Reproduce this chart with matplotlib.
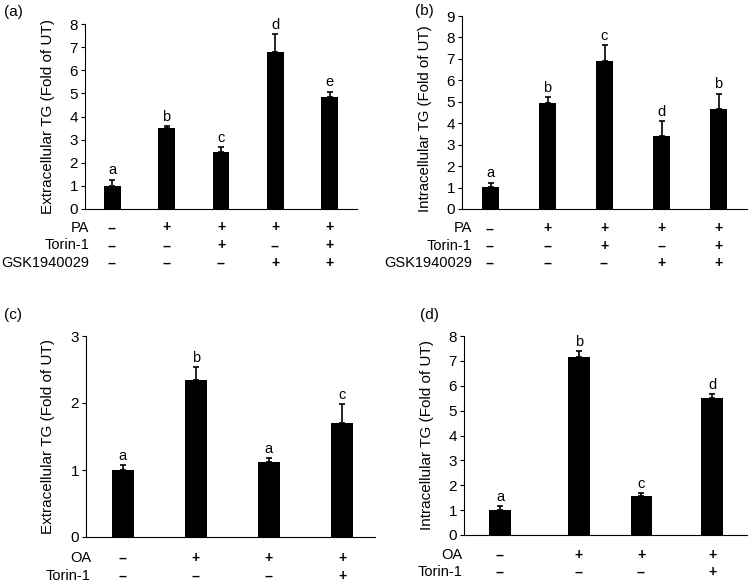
import matplotlib.pyplot as plt

plt.rcParams['font.family'] = ['Liberation Sans', 'DejaVu Sans']

# Panel (a) - extracellular TG, PA / Torin-1 / GSK1940029
a_vals = [1.0, 3.52, 2.47, 6.80, 4.83]
a_err = [0.27, 0.06, 0.19, 0.76, 0.25]
a_letters = ['a', 'b', 'c', 'd', 'e']

# Panel (b) - intracellular TG
b_vals = [1.01, 4.96, 6.91, 3.41, 4.66]
b_err = [0.22, 0.24, 0.72, 0.70, 0.72]
b_letters = ['a', 'b', 'c', 'd', 'b']

pa_rows = ['PA', 'Torin-1', 'GSK1940029']
pa_signs = [['--', '+', '+', '+', '+'],
            ['--', '--', '+', '--', '+'],
            ['--', '--', '--', '+', '+']]

# Panel (c) - extracellular TG, OA / Torin-1
c_vals = [1.00, 2.35, 1.12, 1.70]
c_err = [0.07, 0.18, 0.06, 0.28]
c_letters = ['a', 'b', 'a', 'c']

# Panel (d) - intracellular TG
d_vals = [1.02, 7.14, 1.57, 5.50]
d_err = [0.13, 0.24, 0.12, 0.16]
d_letters = ['a', 'b', 'c', 'd']

oa_rows = ['OA', 'Torin-1']
oa_signs = [['--', '+', '+', '+'],
            ['--', '--', '--', '+']]

fig = plt.figure(figsize=(7.51, 5.84), dpi=100)
W, H = 751, 584


def add_ax(l, t, r, b):
    return fig.add_axes([l / W, 1 - b / H, (r - l) / W, (b - t) / H])


def panel(ax, xs, vals, err, letters, ymax, ylabel, rows, signs, row_y, lab_x, width):
    ax.bar(xs, vals, width=width, color='black')
    ax.errorbar(xs, vals, yerr=[[0] * len(vals), err], fmt='none',
                ecolor='black', elinewidth=1.2, capsize=2.5, capthick=1.2)
    for x, v, e, s in zip(xs, vals, err, letters):
        ax.text(x, v + e + ymax * 0.012, s, ha='center', va='bottom', fontsize=10.5)
    ax.set_ylim(0, ymax)
    ax.set_yticks(range(0, ymax + 1))
    ax.set_xticks([])
    ax.spines[['top', 'right']].set_visible(False)
    ax.tick_params(axis='y', direction='out', length=3, labelsize=11, pad=2)
    ax.set_ylabel(ylabel, fontsize=11)
    tr = ax.get_xaxis_transform()
    for row, sgn, y in zip(rows, signs, row_y):
        ax.text(lab_x, y, row, transform=ax.transAxes, ha='right', va='center', fontsize=10.5)
        for x, s in zip(xs, sgn):
            ax.text(x, y, s, transform=tr, ha='center', va='center',
                    fontsize=10, fontweight='bold', clip_on=False)


ax_a = add_ax(85, 24, 357, 209)
panel(ax_a, range(5), a_vals, a_err, a_letters, 8, 'Extracellular TG (Fold of UT)',
      pa_rows, pa_signs, [-0.10, -0.197, -0.29], 0.015, 0.31)
ax_a.set_xlim(-0.5, 4.5)
ax_a.yaxis.set_label_coords(-0.11, 0.5)

ax_b = add_ax(462, 16, 747, 209)
panel(ax_b, range(5), b_vals, b_err, b_letters, 9, 'Intracellular TG (Fold of UT)',
      pa_rows, pa_signs, [-0.10, -0.192, -0.28], 0.035, 0.31)
ax_b.set_xlim(-0.5, 4.5)
ax_b.set_ylabel('Intracellular TG (Fold of UT)', fontsize=10.8)
ax_b.yaxis.set_label_coords(-0.105, 0.47)

ax_c = add_ax(86, 336, 375, 537)
panel(ax_c, range(4), c_vals, c_err, c_letters, 3, 'Extracellular TG (Fold of UT)',
      oa_rows, oa_signs, [-0.103, -0.192], 0.017, 0.30)
ax_c.set_xlim(-0.5, 3.45)
ax_c.yaxis.set_label_coords(-0.107, 0.5)

ax_d = add_ax(464, 336, 747, 535)
panel(ax_d, [0, 1.11, 1.99, 2.99], d_vals, d_err, d_letters, 8, 'Intracellular TG (Fold of UT)',
      oa_rows, oa_signs, [-0.099, -0.184], -0.007, 0.305)
ax_d.set_xlim(-0.51, 3.48)
ax_d.yaxis.set_label_coords(-0.106, 0.5)

for lab, x, y in [('(a)', 13, 12), ('(b)', 424, 11), ('(c)', 13, 315), ('(d)', 429, 315)]:
    fig.text(x / W, 1 - y / H, lab, ha='center', va='center', fontsize=11)

fig.savefig('out.png', dpi=100)
